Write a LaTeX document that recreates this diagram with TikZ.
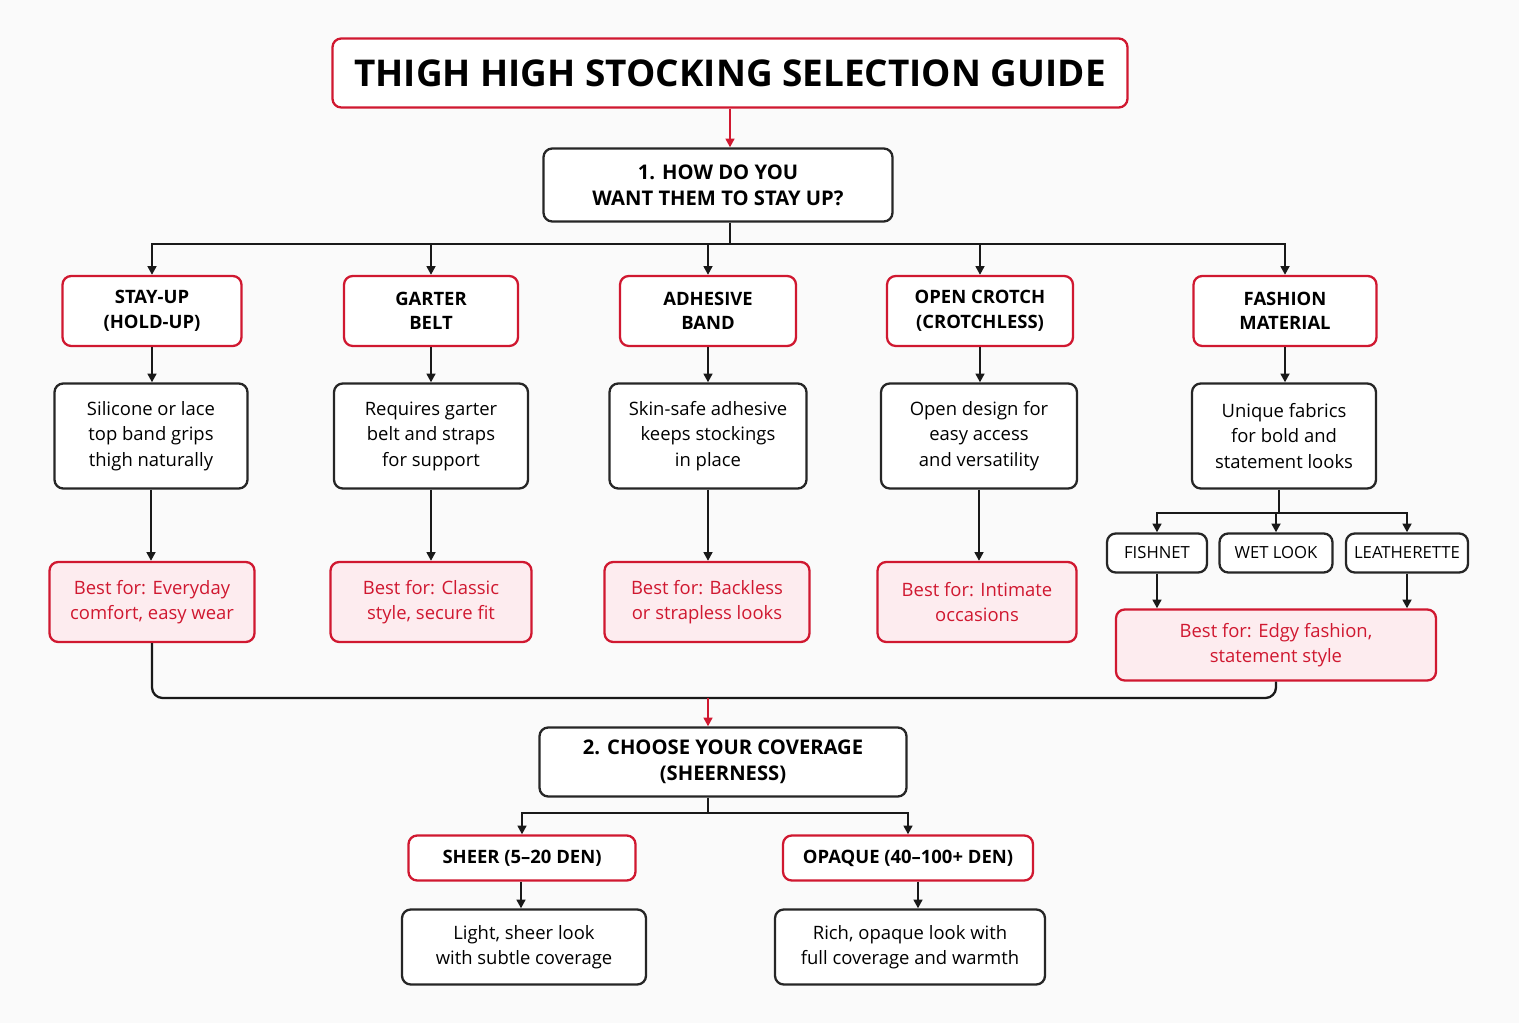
\documentclass[tikz,border=0pt]{standalone}
\usepackage{fontspec}
\setmainfont{Open Sans}
\usetikzlibrary{arrows.meta}
\definecolor{rd}{HTML}{D01830}
\definecolor{pk}{HTML}{FDECEF}
\begin{document}
\begin{tikzpicture}[x=0.02cm,y=-0.02cm,
  bx/.style 2 args={draw, line width=1.3pt, rounded corners=5pt, fill=white, align=center,
     minimum width=#1*0.02cm, minimum height=#2*0.02cm, inner sep=2pt, font=\fontsize{10.5}{14.5}\selectfont},
  redb/.style={draw=rd},
  blk/.style={draw=black!85},
  best/.style={draw=rd, fill=pk, text=rd},
  ln/.style={line width=1.3pt, black!90},
  ar/.style={ln, -{Triangle[length=5pt,width=5pt]}},
  rar/.style={line width=1.3pt, rd, -{Triangle[length=5pt,width=5pt]}}]
\fill[white!98!black] (0,0) rectangle (1519,1023);
\useasboundingbox (0,0) rectangle (1519,1023);
\node[bx={795}{69}, redb, font=\fontsize{21}{26}\selectfont\bfseries] (t) at (730,73) {THIGH HIGH STOCKING SELECTION GUIDE};
\node[bx={349}{73}, blk, font=\fontsize{11.5}{15}\selectfont\bfseries] (q1) at (718,185) {1. HOW DO YOU\\WANT THEM TO STAY UP?};
\draw[rar] (t.south -| 730,0) -- (q1.north -| 730,0);

\foreach \n/\x/\w/\t in {a/152/179/{STAY-UP\\(HOLD-UP)}, b/431/174/{GARTER\\BELT}, c/708/176/{ADHESIVE\\BAND}, d/980/186/{OPEN CROTCH\\(CROTCHLESS)}, e/1285/183/{FASHION\\MATERIAL}}
  \node[bx={\w}{70}, redb, font=\fontsize{10.5}{14}\selectfont\bfseries] (\n1) at (\x,311) {\t};
\node[bx={193}{105}, blk] (a2) at (151,436) {Silicone or lace\\top band grips\\thigh naturally};
\node[bx={194}{105}, blk] (b2) at (431,436) {Requires garter\\belt and straps\\for support};
\node[bx={197}{105}, blk] (c2) at (708,436) {Skin-safe adhesive\\keeps stockings\\in place};
\node[bx={196}{105}, blk] (d2) at (979,436) {Open design for\\easy access\\and versatility};
\node[bx={184}{105}, blk] (e2) at (1284,436) {Unique fabrics\\for bold and\\statement looks};
\node[bx={205}{80}, best] (a3) at (152,602) {Best for: Everyday\\comfort, easy wear};
\node[bx={201}{80}, best] (b3) at (431,602) {Best for: Classic\\style, secure fit};
\node[bx={205}{80}, best] (c3) at (707,602) {Best for: Backless\\or strapless looks};
\node[bx={199}{80}, best] (d3) at (977,602) {Best for: Intimate\\occasions};
\node[bx={100}{39}, blk, font=\fontsize{9.5}{12}\selectfont] (f1) at (1157,553) {FISHNET};
\node[bx={113}{39}, blk, font=\fontsize{9.5}{12}\selectfont] (f2) at (1276,553) {WET LOOK};
\node[bx={122}{39}, blk, font=\fontsize{9.5}{12}\selectfont] (f3) at (1407,553) {LEATHERETTE};
\node[bx={320}{71}, best] (e3) at (1276,645) {Best for: Edgy fashion,\\statement style};

\coordinate (j1) at (730,244);
\draw[ln] (q1.south -| j1) -- (j1);
\foreach \n in {a,b,c,d,e}{
  \draw[ar] (j1) -| (\n1.north);
  \draw[ar] (\n1.south) -- (\n1.south |- \n2.north);}
\foreach \n in {a,b,c,d} \draw[ar] (\n2.south) -- (\n2.south |- \n3.north);
\coordinate (j2) at (1279,513);
\draw[ln] (e2.south -| j2) -- (j2);
\foreach \n in {f1,f2,f3}{\draw[ar] (j2) -| (\n.north);}
\draw[ar] (f1.south) -- (f1.south |- e3.north);
\draw[ar] (f3.south) -- (f3.south |- e3.north);

\node[bx={367}{69}, blk, font=\fontsize{11.5}{15}\selectfont\bfseries] (q2) at (723,762) {2. CHOOSE YOUR COVERAGE\\(SHEERNESS)};
\coordinate (m) at (708,698);
\draw[ln, rounded corners=6pt] (a3.south) |- (m) -| (e3.south);
\draw[rar] (m) -- (q2.north -| m);

\node[bx={227}{45}, redb, font=\fontsize{10.5}{14}\selectfont\bfseries] (s1) at (522,858) {SHEER (5–20 DEN)};
\node[bx={250}{45}, redb, font=\fontsize{10.5}{14}\selectfont\bfseries] (o1) at (908,858) {OPAQUE (40–100+ DEN)};
\node[bx={244}{75}, blk] (s2) at (524,947) {Light, sheer look\\with subtle coverage};
\node[bx={270}{75}, blk] (o2) at (910,947) {Rich, opaque look with\\full coverage and warmth};
\coordinate (j3) at (708,813);
\draw[ln] (q2.south -| j3) -- (j3);
\draw[ar] (j3) -| (s1.north);
\draw[ar] (j3) -| (o1.north);
\draw[ar] (s1.south -| 521,0) -- (s2.north -| 521,0);
\draw[ar] (o1.south -| 918,0) -- (o2.north -| 918,0);
\end{tikzpicture}
\end{document}
